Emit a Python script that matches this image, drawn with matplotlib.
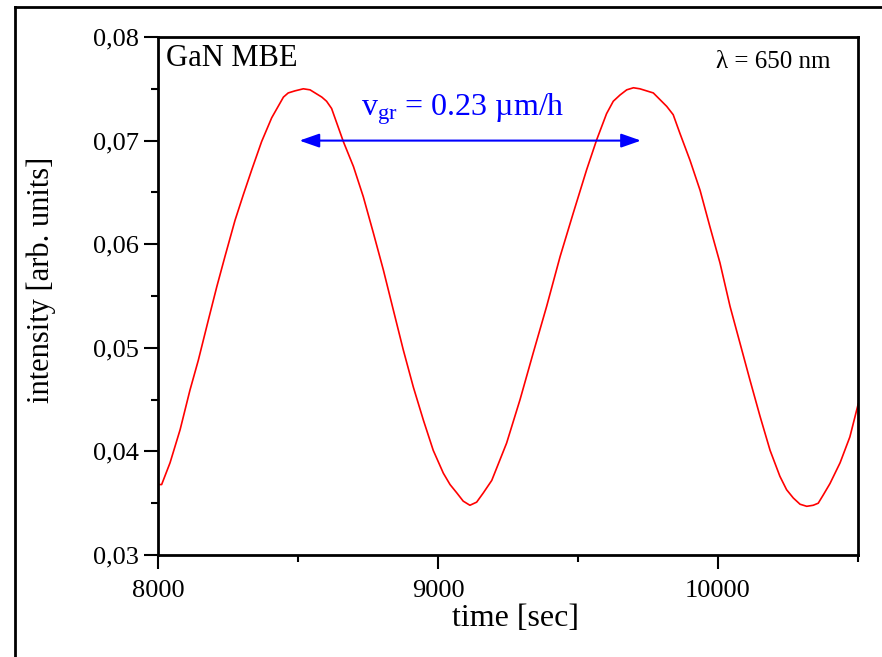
import matplotlib
matplotlib.use('Agg')
import matplotlib.pyplot as plt
from matplotlib.lines import Line2D

plt.rcParams['font.family'] = ['Liberation Serif', 'DejaVu Serif']
plt.rcParams['mathtext.fontset'] = 'custom'
plt.rcParams['mathtext.rm'] = 'Liberation Serif'
plt.rcParams['mathtext.it'] = 'Liberation Serif:italic'

# reflectance trace
time_sec = [8000, 8013, 8043, 8079, 8114, 8144, 8180, 8210, 8239, 8275,
            8305, 8335, 8370, 8406, 8448, 8465, 8489, 8519, 8543, 8561,
            8585, 8602, 8620, 8662, 8698, 8733, 8769, 8805, 8840, 8876,
            8912, 8948, 8983, 9019, 9043, 9067, 9090, 9114, 9138, 9162,
            9192, 9245, 9293, 9340, 9388, 9436, 9483, 9531, 9567, 9602,
            9626, 9650, 9674, 9698, 9721, 9745, 9769, 9817, 9840, 9864,
            9900, 9936, 9971, 10007, 10043, 10079, 10114, 10150, 10186, 10221,
            10245, 10269, 10293, 10317, 10340, 10358, 10376, 10400, 10436, 10471,
            10501]
intensity = [0.0368, 0.0368, 0.0389, 0.0421, 0.0459, 0.0488, 0.0527, 0.0559, 0.0588, 0.0623,
             0.0648, 0.0672, 0.0699, 0.0722, 0.0742, 0.0746, 0.0748, 0.0750, 0.0749, 0.0746,
             0.0742, 0.0738, 0.0731, 0.0699, 0.0675, 0.0646, 0.0611, 0.0575, 0.0537, 0.0498,
             0.0462, 0.0430, 0.0401, 0.0379, 0.0368, 0.0360, 0.0352, 0.0348, 0.0351, 0.0360,
             0.0372, 0.0408, 0.0450, 0.0495, 0.0540, 0.0588, 0.0630, 0.0672, 0.0701, 0.0726,
             0.0738, 0.0744, 0.0749, 0.0751, 0.0750, 0.0748, 0.0746, 0.0733, 0.0725, 0.0707,
             0.0681, 0.0652, 0.0617, 0.0582, 0.0540, 0.0504, 0.0469, 0.0434, 0.0401, 0.0376,
             0.0363, 0.0355, 0.0349, 0.0347, 0.0348, 0.0350, 0.0358, 0.0369, 0.0389, 0.0414,
             0.0446]

xticks = [8000, 9000, 10000]
yticks = [0.03, 0.04, 0.05, 0.06, 0.07, 0.08]
ytick_labels = ['0,03', '0,04', '0,05', '0,06', '0,07', '0,08']

arrow_start = 8505
arrow_end = 9725
arrow_y = 0.070

fig = plt.figure(figsize=(8.82, 6.57), dpi=100)
ax = fig.add_axes([158 / 882, 1 - 555 / 657, 700 / 882, 518 / 657])

ax.plot(time_sec, intensity, color='red', lw=1.2)

ax.set_xlim(8000, 10500)
ax.set_ylim(0.03, 0.08)
ax.set_xticks(xticks)
ax.set_xticks([8500, 9500, 10500], minor=True)
ax.set_yticks(yticks)
ax.set_yticklabels(ytick_labels)
ax.set_yticks([0.035, 0.045, 0.055, 0.065, 0.075], minor=True)
ax.tick_params(which='major', direction='out', length=10, width=1.5, labelsize=19, pad=4)
ax.tick_params(which='minor', direction='out', length=5, width=1.5)
ax.tick_params(axis='x', which='major', pad=8)
for s in ax.spines.values():
    s.set_linewidth(2)

ax.set_xlabel('time [sec]', fontsize=23)
ax.set_ylabel('intensity [arb. units]', fontsize=22)
ax.xaxis.set_label_coords(0.51, -0.094)
ax.yaxis.set_label_coords(-0.146, 0.531)

ax.text(0.011, 0.944, 'GaN MBE', transform=ax.transAxes, fontsize=22, va='baseline')
ax.text(0.96, 0.940, '\u03bb = 650 nm', transform=ax.transAxes, fontsize=18,
        va='baseline', ha='right')
ax.text(8725, 0.0724, r'v$_{\mathrm{gr}}$ = 0.23 ' + '\u00b5m/h',
        color='blue', fontsize=23, va='baseline')

ax.annotate('', xy=(arrow_end, arrow_y), xytext=(arrow_start, arrow_y),
            arrowprops=dict(arrowstyle='<|-|>,head_length=1.0,head_width=0.35',
                            color='blue', lw=1.5, mutation_scale=12,
                            shrinkA=0, shrinkB=0))

# outer frame of the figure (top and left edges visible)
fig.add_artist(Line2D([15 / 882, 15 / 882], [0, 1 - 7 / 657], transform=fig.transFigure,
                      color='black', lw=2))
fig.add_artist(Line2D([15 / 882, 1], [1 - 7 / 657, 1 - 7 / 657], transform=fig.transFigure,
                      color='black', lw=2))

fig.savefig('out.png', dpi=100)
